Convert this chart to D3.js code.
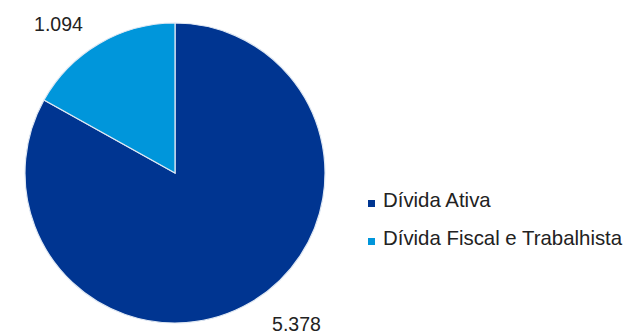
<!DOCTYPE html>
<html>
<head>
<meta charset="utf-8">
<script src="https://cdn.jsdelivr.net/npm/d3@7"></script>
<style>
  body { margin: 0; background: #fff; }
  text { font-family: "Liberation Sans", Arial, sans-serif; }
</style>
</head>
<body>
<div id="chart"></div>
<script>
var categories = ["Dívida Ativa", "Dívida Fiscal e Trabalhista"];
var values = [5378, 1094];
var valueLabels = ["5.378", "1.094"];
var colors = ["#003591", "#0096DB"];

var width = 628, height = 332;
var cx = 175, cy = 173, radius = 150;

var svg = d3.select("#chart")
  .append("svg")
  .attr("width", width)
  .attr("height", height);

var data = categories.map(function(c, i) {
  return { label: c, value: values[i], text: valueLabels[i], color: colors[i] };
});

var pie = d3.pie()
  .value(function(d) { return d.value; })
  .sort(null);

var arc = d3.arc().innerRadius(0).outerRadius(radius);
var labelArc = d3.arc().innerRadius(172).outerRadius(172);

var g = svg.append("g")
  .attr("transform", "translate(" + cx + "," + cy + ")");

var slices = pie(data);

g.selectAll("path")
  .data(slices)
  .enter()
  .append("path")
  .attr("d", arc)
  .attr("fill", function(d) { return d.data.color; })
  .style("stroke", "#dfe8f3")
  .style("stroke-width", 1.2);

// data labels, anchored by the corner nearest the pie
g.selectAll(".lbl")
  .data(slices)
  .enter()
  .append("text")
  .attr("class", "lbl")
  .attr("x", function(d) {
    var p = labelArc.centroid(d);
    return p[0] < 0 ? p[0] - 5 : p[0] + 10;
  })
  .attr("y", function(d) {
    var p = labelArc.centroid(d);
    return p[1] < 0 ? p[1] + 6 : p[1] + 10;
  })
  .attr("text-anchor", function(d) { return labelArc.centroid(d)[0] < 0 ? "end" : "start"; })
  .attr("font-size", "19.5px")
  .attr("fill", "#222")
  .text(function(d) { return d.data.text; });

// legend
var legend = svg.append("g")
  .attr("transform", "translate(368,207)");

var item = legend.selectAll(".item")
  .data(data)
  .enter()
  .append("g")
  .attr("class", "item")
  .attr("transform", function(d, i) { return "translate(0," + (i * 38) + ")"; });

item.append("rect")
  .attr("x", 0)
  .attr("y", -7)
  .attr("width", 7)
  .attr("height", 7)
  .attr("fill", function(d) { return d.color; });

item.append("text")
  .attr("x", 15)
  .attr("y", 0)
  .attr("font-size", "20.4px")
  .attr("fill", "#222")
  .text(function(d) { return d.label; });
</script>
</body>
</html>
